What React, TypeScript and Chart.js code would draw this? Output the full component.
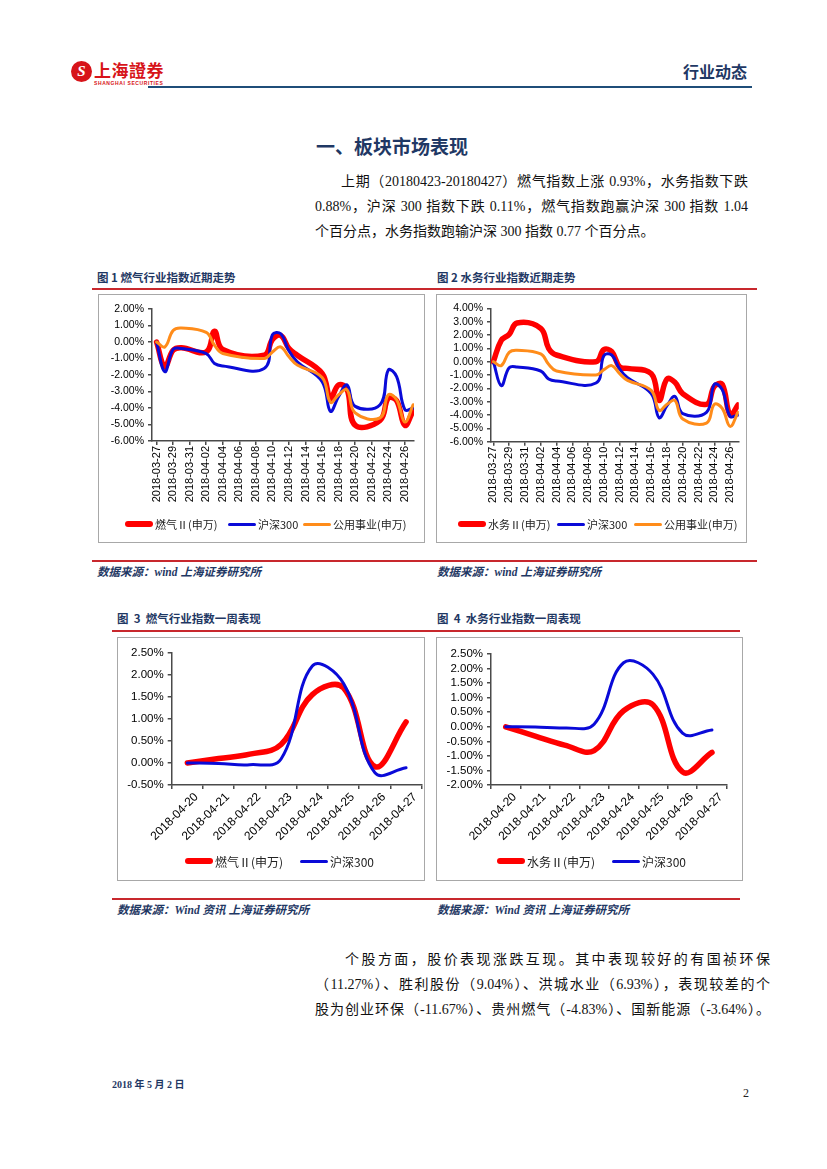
import React, { useEffect, useRef } from 'react';
import { Chart, registerables } from 'chart.js';

Chart.register(...registerables);

// ---------------- data ----------------
const tradeDates = ['2018-03-27', '2018-03-28', '2018-03-29', '2018-03-30', '2018-04-02', '2018-04-03', '2018-04-04', '2018-04-09', '2018-04-10', '2018-04-11', '2018-04-12', '2018-04-13', '2018-04-16', '2018-04-17', '2018-04-18', '2018-04-19', '2018-04-20', '2018-04-23', '2018-04-24', '2018-04-25', '2018-04-26', '2018-04-27'];
const trendTickDates = ['2018-03-27', '2018-03-29', '2018-03-31', '2018-04-02', '2018-04-04', '2018-04-06', '2018-04-08', '2018-04-10', '2018-04-12', '2018-04-14', '2018-04-16', '2018-04-18', '2018-04-20', '2018-04-22', '2018-04-24', '2018-04-26'];
const gasTrend = [0, -1.5, -0.5, -0.35, -0.6, 0.65, -0.45, -0.8, 0.15, 0.4, -0.4, -0.8, -1.9, -3.4, -2.6, -2.85, -5.05, -4.75, -3.4, -3.55, -5.05, -4.15];
const waterTrend = [0, 1.6, 2.05, 2.9, 2.5, 1.0, 0.5, 0.0, 0.9, 0.75, -0.4, -0.5, -0.9, -2.9, -1.3, -1.55, -2.4, -3.2, -1.85, -1.7, -4.0, -3.25];
const hs300Trend = [0, -1.8, -0.45, -0.4, -0.7, -1.3, -1.45, -1.6, 0.45, 0.5, -0.55, -1.2, -2.4, -4.2, -3.3, -2.6, -3.9, -3.8, -1.7, -2.1, -4.1, -4.0];
const utilityTrend = [0, -0.3, 0.7, 0.85, 0.58, -0.2, -0.7, -1.0, -0.6, -0.3, -0.9, -1.4, -2.15, -3.65, -3.2, -2.9, -4.3, -4.6, -3.2, -3.5, -4.85, -3.8];

const weekDates = ['2018-04-20', '2018-04-21', '2018-04-22', '2018-04-23', '2018-04-24', '2018-04-25', '2018-04-26', '2018-04-27'];
const gasWeek = [0, 0.1, 0.2, 0.42, 1.55, 1.7, -0.08, 0.93];
const waterWeek = [0, -0.32, -0.63, -0.82, 0.55, 0.75, -1.55, -0.88];
const hs300Week = [0, -0.01, -0.04, 0.09, 2.2, 1.8, -0.22, -0.11];

const GAS = '燃气Ⅱ(申万)';
const WATER = '水务Ⅱ(申万)';
const HS300 = '沪深300';
const UTIL = '公用事业(申万)';

// ---------------- styles ----------------
const RED = '#FF0000';
const BLUE = '#0A0AD8';
const ORANGE = '#FF8C1A';
const AXIS = '#4A4A4A';
const NAVY = '#1F3864';
const RULE = '#C8282D';
const LATIN = "'Liberation Sans', Arial, 'Noto Sans CJK SC', sans-serif";
const CJK = "'Noto Sans CJK SC', 'Liberation Sans', sans-serif";
const SERIF = "'Liberation Serif', 'Noto Sans CJK SC', serif";

const DAY = 86400000;
const dayIndex = (d: string) => Math.round((Date.parse(d) - Date.parse(tradeDates[0])) / DAY);
const toXY = (vals: number[]) => vals.map((v, i) => ({ x: dayIndex(tradeDates[i]), y: v }));

type Geom = { l: number; t: number; w: number; h: number; al: number; at: number; ar: number; ab: number; xh: number };

const G1: Geom = { l: 98, t: 294, w: 327, h: 249, al: 54, at: 15, ar: 316, ab: 147, xh: 70 };
const G2: Geom = { l: 436, t: 294, w: 311, h: 249, al: 55, at: 14.3, ar: 302.8, ab: 147.7, xh: 70 };
const G3: Geom = { l: 117, t: 637, w: 308, h: 244, al: 54.7, at: 15.7, ar: 304.7, ab: 148, xh: 70 };
const G4: Geom = { l: 436, t: 637, w: 307, h: 244, al: 55, at: 17, ar: 290.7, ab: 148, xh: 70 };

function ds(label: string, data: any[], color: string, width: number, order: number) {
  return {
    label,
    data,
    borderColor: color,
    backgroundColor: color,
    borderWidth: width,
    pointRadius: 0,
    pointHoverRadius: 0,
    tension: 0.4,
    fill: false,
    borderCapStyle: 'round',
    borderJoinStyle: 'round',
    order,
  };
}

function yScale(g: Geom, min: number, max: number, step: number, size: number) {
  return {
    type: 'linear',
    min,
    max,
    ticks: {
      stepSize: step,
      autoSkip: false,
      color: '#000',
      font: { family: LATIN, size },
      padding: 4,
      callback: (v: any) => Number(v).toFixed(2) + '%',
    },
    grid: { drawOnChartArea: false, drawTicks: true, tickLength: 4, color: AXIS, lineWidth: 1.5 },
    border: { display: true, color: AXIS, width: 1.5 },
    afterFit: (s: any) => {
      s.width = g.al;
    },
  };
}

function xTrend(g: Geom, min: number, max: number) {
  return {
    type: 'linear',
    min,
    max,
    afterBuildTicks: (s: any) => {
      s.ticks = trendTickDates.map((d) => ({ value: dayIndex(d) }));
    },
    ticks: {
      autoSkip: false,
      minRotation: 90,
      maxRotation: 90,
      color: '#000',
      font: { family: LATIN, size: 11 },
      padding: 1,
      callback: (_v: any, i: number) => trendTickDates[i],
    },
    grid: { drawOnChartArea: false, drawTicks: true, tickLength: 4, color: AXIS, lineWidth: 1.5 },
    border: { display: true, color: AXIS, width: 1.5 },
    afterFit: (s: any) => {
      s.height = g.xh;
    },
  };
}

function xWeek(g: Geom) {
  return {
    type: 'category',
    offset: true,
    ticks: {
      autoSkip: false,
      minRotation: 45,
      maxRotation: 45,
      labelOffset: 9,
      color: '#000',
      font: { family: LATIN, size: 12 },
      padding: 1,
    },
    grid: { drawOnChartArea: false, drawTicks: true, tickLength: 4, color: AXIS, lineWidth: 1.5, offset: true },
    border: { display: true, color: AXIS, width: 1.5 },
    afterFit: (s: any) => {
      s.height = g.xh;
    },
  };
}

function options(g: Geom, x: any, y: any) {
  return {
    responsive: false,
    maintainAspectRatio: false,
    animation: false,
    events: [],
    layout: { padding: { left: 0, top: g.at, right: g.w - g.ar, bottom: g.h - g.ab - g.xh } },
    plugins: { legend: { display: false }, tooltip: { enabled: false }, title: { display: false } },
    scales: { x, y },
  };
}

const config1 = () => ({
  type: 'line',
  data: {
    datasets: [
      ds(GAS, toXY(gasTrend), RED, 5.5, 3),
      ds(HS300, toXY(hs300Trend), BLUE, 3, 2),
      ds(UTIL, toXY(utilityTrend), ORANGE, 3, 1),
    ],
  },
  options: options(G1, xTrend(G1, -0.55, 31.1), yScale(G1, -6, 2, 1, 10.5)),
});

const config2 = () => ({
  type: 'line',
  data: {
    datasets: [
      ds(WATER, toXY(waterTrend), RED, 5.5, 3),
      ds(HS300, toXY(hs300Trend), BLUE, 3, 2),
      ds(UTIL, toXY(utilityTrend), ORANGE, 3, 1),
    ],
  },
  options: options(G2, xTrend(G2, -0.3, 31.1), yScale(G2, -6, 4, 1, 10.5)),
});

const config3 = () => ({
  type: 'line',
  data: {
    labels: weekDates,
    datasets: [ds(GAS, gasWeek, RED, 5.5, 2), ds(HS300, hs300Week, BLUE, 3, 1)],
  },
  options: options(G3, xWeek(G3), yScale(G3, -0.5, 2.5, 0.5, 11.5)),
});

const config4 = () => ({
  type: 'line',
  data: {
    labels: weekDates,
    datasets: [ds(WATER, waterWeek, RED, 5.5, 2), ds(HS300, hs300Week, BLUE, 3, 1)],
  },
  options: options(G4, xWeek(G4), yScale(G4, -2, 2.5, 0.5, 11.5)),
});

function ChartBox({ g, build }: { g: Geom; build: () => any }) {
  const ref = useRef<HTMLCanvasElement>(null);
  useEffect(() => {
    const chart = new Chart(ref.current as HTMLCanvasElement, build() as any);
    return () => chart.destroy();
  }, []);
  return (
    <>
      <div
        style={{
          position: 'absolute',
          left: g.l,
          top: g.t,
          width: g.w,
          height: g.h,
          border: '1.5px solid #A8A8A8',
          boxSizing: 'border-box',
        }}
      />
      <canvas
        ref={ref}
        width={g.w}
        height={g.h}
        style={{ position: 'absolute', left: g.l, top: g.t, width: g.w, height: g.h }}
      />
    </>
  );
}

type LegendItem = { x: number; label: string; color: string; thick: number };

function Legend({ y, items, size }: { y: number; items: LegendItem[]; size: number }) {
  return (
    <>
      {items.map((it) => (
        <div
          key={it.label}
          style={{
            position: 'absolute',
            left: it.x,
            top: y - 10,
            height: 20,
            display: 'flex',
            alignItems: 'center',
            whiteSpace: 'nowrap',
            fontFamily: CJK,
            fontSize: size,
            color: '#222',
          }}
        >
          <span
            style={{
              display: 'inline-block',
              width: 28,
              height: it.thick,
              background: it.color,
              borderRadius: it.thick / 2,
              marginRight: 2,
            }}
          />
          <span>{it.label}</span>
        </div>
      ))}
    </>
  );
}

function Txt({ x, y, size, children, style }: { x: number; y: number; size: number; children: any; style?: any }) {
  return (
    <div
      style={{
        position: 'absolute',
        left: x,
        top: y - size,
        height: size * 2,
        lineHeight: `${size * 2}px`,
        fontSize: size,
        whiteSpace: 'nowrap',
        ...style,
      }}
    >
      {children}
    </div>
  );
}

function JLine({ x, y, w, size, children, family }: { x: number; y: number; w: number; size: number; children: any; family: string }) {
  return (
    <div
      style={{
        position: 'absolute',
        left: x,
        top: y - size,
        width: w,
        height: size * 2,
        lineHeight: `${size * 2}px`,
        fontSize: size,
        fontFamily: family,
        textAlign: 'justify',
        textAlignLast: 'justify',
        color: '#111',
      }}
    >
      {children}
    </div>
  );
}

function Rule({ x, y, w, color, h }: { x: number; y: number; w: number; color: string; h: number }) {
  return <div style={{ position: 'absolute', left: x, top: y, width: w, height: h, background: color }} />;
}

const captionStyle = { fontFamily: CJK, fontWeight: 700, color: NAVY };
const sourceStyle = { fontFamily: "'Liberation Serif', 'Noto Sans CJK SC', serif", fontWeight: 700, fontStyle: 'italic', color: NAVY };
const SP2 = '\u00a0\u00a0';

export default function App() {
  return (
    <div
      style={{
        position: 'absolute',
        left: 0,
        top: 0,
        width: 827,
        height: 1169,
        background: '#fff',
        overflow: 'hidden',
        fontFamily: CJK,
      }}
    >
      {/* header logo */}
      <div
        style={{
          position: 'absolute',
          left: 71,
          top: 61,
          width: 21,
          height: 21,
          borderRadius: '50%',
          background: '#D7141A',
          color: '#fff',
          fontFamily: SERIF,
          fontWeight: 700,
          fontStyle: 'italic',
          fontSize: 15,
          lineHeight: '21px',
          textAlign: 'center',
        }}
      >
        S
      </div>
      <Txt x={94} y={70} size={17} style={{ color: '#D7141A', fontWeight: 700, fontFamily: CJK, letterSpacing: 0.5 }}>
        上海證券
      </Txt>
      <Txt x={94} y={82.5} size={5} style={{ color: '#D7141A', fontWeight: 700, fontFamily: LATIN, letterSpacing: 0.6 }}>
        SHANGHAI SECURITIES
      </Txt>
      <Txt x={683} y={71} size={16} style={{ color: NAVY, fontWeight: 700, fontFamily: CJK }}>
        行业动态
      </Txt>
      <Rule x={148} y={86} w={604} h={2.2} color="#1F4E79" />

      {/* title */}
      <Txt x={316} y={146} size={19} style={{ color: NAVY, fontWeight: 700, fontFamily: CJK }}>
        一、板块市场表现
      </Txt>

      {/* paragraph 1 */}
      <JLine x={341} y={182} w={407} size={14} family={SERIF}>
        上期（20180423-20180427）燃气指数上涨 0.93%，水务指数下跌
      </JLine>
      <JLine x={315} y={207} w={433} size={14} family={SERIF}>
        0.88%，沪深 300 指数下跌 0.11%，燃气指数跑赢沪深 300 指数 1.04
      </JLine>
      <Txt x={315} y={232} size={14} style={{ fontFamily: SERIF, color: '#111' }}>
        个百分点，水务指数跑输沪深 300 指数 0.77 个百分点。
      </Txt>

      {/* figure 1 & 2 */}
      <Txt x={97} y={277} size={11.5} style={captionStyle}>
        图 1 燃气行业指数近期走势
      </Txt>
      <Txt x={437} y={277} size={11.5} style={captionStyle}>
        图 2 水务行业指数近期走势
      </Txt>
      <Rule x={92} y={288} w={665} h={1.5} color={RULE} />

      <ChartBox g={G1} build={config1} />
      <ChartBox g={G2} build={config2} />
      <Legend
        y={524}
        size={11}
        items={[
          { x: 125, label: GAS, color: RED, thick: 6 },
          { x: 228, label: HS300, color: BLUE, thick: 3 },
          { x: 303, label: UTIL, color: ORANGE, thick: 3 },
        ]}
      />
      <Legend
        y={524}
        size={11}
        items={[
          { x: 458, label: WATER, color: RED, thick: 6 },
          { x: 557, label: HS300, color: BLUE, thick: 3 },
          { x: 634, label: UTIL, color: ORANGE, thick: 3 },
        ]}
      />

      <Rule x={92} y={560} w={665} h={1.5} color={RULE} />
      <Txt x={97} y={572} size={11.5} style={sourceStyle}>
        数据来源：wind 上海证券研究所
      </Txt>
      <Txt x={437} y={572} size={11.5} style={sourceStyle}>
        数据来源：wind 上海证券研究所
      </Txt>

      {/* figure 3 & 4 */}
      <Txt x={117} y={618} size={11.5} style={captionStyle}>
        图{SP2}3{SP2}燃气行业指数一周表现
      </Txt>
      <Txt x={437} y={618} size={11.5} style={captionStyle}>
        图{SP2}4{SP2}水务行业指数一周表现
      </Txt>
      <Rule x={112} y={630} w={628} h={1.5} color={RULE} />

      <ChartBox g={G3} build={config3} />
      <ChartBox g={G4} build={config4} />
      <Legend
        y={861}
        size={12}
        items={[
          { x: 185, label: GAS, color: RED, thick: 6 },
          { x: 300, label: HS300, color: BLUE, thick: 3 },
        ]}
      />
      <Legend
        y={861}
        size={12}
        items={[
          { x: 497, label: WATER, color: RED, thick: 6 },
          { x: 612, label: HS300, color: BLUE, thick: 3 },
        ]}
      />

      <Rule x={112} y={898} w={628} h={1.5} color={RULE} />
      <Txt x={117} y={910} size={11.5} style={sourceStyle}>
        数据来源：Wind 资讯 上海证券研究所
      </Txt>
      <Txt x={437} y={910} size={11.5} style={sourceStyle}>
        数据来源：Wind 资讯 上海证券研究所
      </Txt>

      {/* paragraph 2 */}
      <JLine x={345} y={960} w={425} size={14} family={SERIF}>
        个股方面，股价表现涨跌互现。其中表现较好的有国祯环保
      </JLine>
      <JLine x={315} y={985} w={455} size={14} family={SERIF}>
        （11.27%）、胜利股份（9.04%）、洪城水业（6.93%），表现较差的个
      </JLine>
      <JLine x={315} y={1010} w={455} size={14} family={SERIF}>
        股为创业环保（-11.67%）、贵州燃气（-4.83%）、国新能源（-3.64%）。
      </JLine>

      {/* footer */}
      <Txt x={112} y={1085} size={10} style={{ fontFamily: SERIF, fontWeight: 700, color: NAVY }}>
        2018 年 5 月 2 日
      </Txt>
      <Txt x={743} y={1093} size={12} style={{ fontFamily: SERIF, color: '#222' }}>
        2
      </Txt>
    </div>
  );
}
